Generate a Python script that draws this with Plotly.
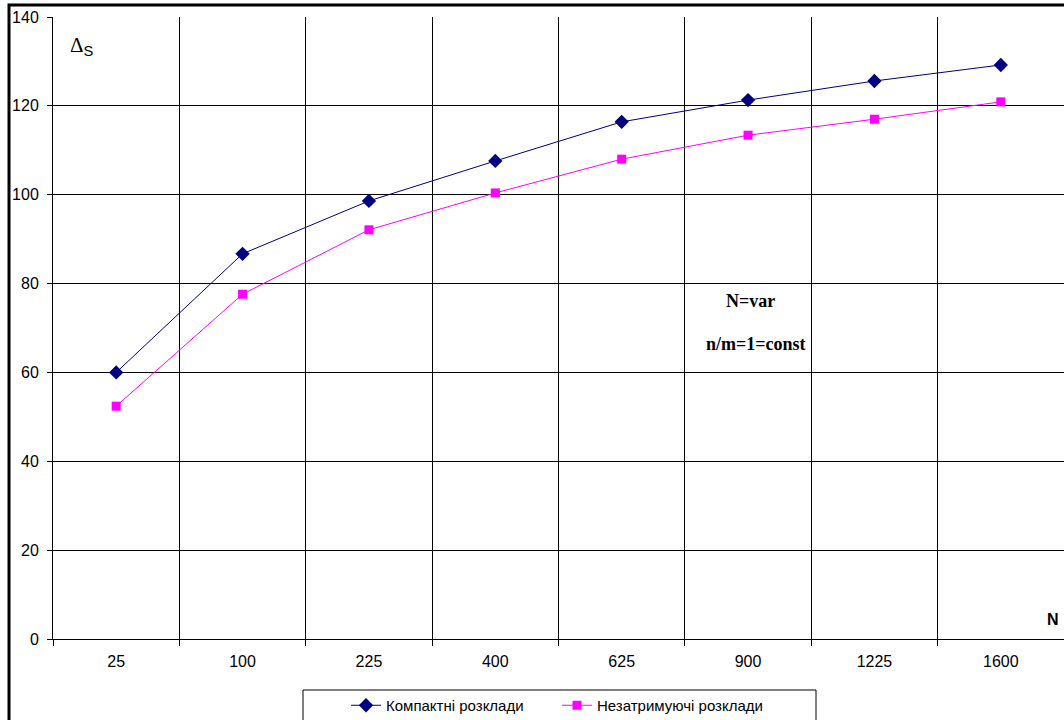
import plotly.graph_objects as go

categories = ["25", "100", "225", "400", "625", "900", "1225", "1600"]
compact = [60.0, 86.7, 98.6, 107.6, 116.4, 121.3, 125.6, 129.2]
nondelay = [52.4, 77.6, 92.1, 100.4, 108.0, 113.4, 117.0, 120.9]
y_ticks = [0, 20, 40, 60, 80, 100, 120, 140]

FONT = "Liberation Sans, Arial, sans-serif"
SERIF = "Liberation Serif, Times New Roman, serif"

W, H = 1064, 720
L, R, T, B = 53, 0, 17, 81
PW, PH = W - L - R, H - T - B


def px_x(px):
    return (px - L) / PW


def px_y(py):
    return (H - B - py) / PH


fig = go.Figure()
fig.add_trace(go.Scatter(
    x=categories, y=compact, mode="lines+markers", name="Компактні розклади",
    line=dict(color="#000080", width=1),
    marker=dict(symbol="diamond", size=11, color="#000080"),
))
fig.add_trace(go.Scatter(
    x=categories, y=nondelay, mode="lines+markers", name="Незатримуючі розклади",
    line=dict(color="#FF00FF", width=1),
    marker=dict(symbol="square", size=9, color="#FF00FF"),
))

fig.update_layout(
    width=W, height=H,
    margin=dict(l=L, r=R, t=T, b=B, autoexpand=False),
    paper_bgcolor="white", plot_bgcolor="white",
    font=dict(family=FONT, size=16, color="#000000"),
    showlegend=True,
    legend=dict(
        orientation="h",
        xref="container", x=346 / W, xanchor="left",
        yref="container", y=(H - 689) / H, yanchor="top",
        borderwidth=0, bgcolor="rgba(0,0,0,0)",
        font=dict(family=FONT, size=15, color="#000000"),
        entrywidth=166, entrywidthmode="pixels",
        itemwidth=30,
    ),
    xaxis=dict(
        type="category", range=[-0.5, 7.5], tickson="boundaries",
        ticks="outside", ticklen=6, tickcolor="#000000",
        showgrid=True, gridcolor="#000000", gridwidth=1,
        showline=True, linecolor="#000000", linewidth=1,
        tickfont=dict(family=FONT, size=16, color="#000000"),
        ticklabelstandoff=8, automargin=False,
        fixedrange=True,
    ),
    yaxis=dict(
        range=[0, 140], tickvals=y_ticks,
        ticks="outside", ticklen=5, tickcolor="#000000",
        showgrid=True, gridcolor="#000000", gridwidth=1,
        showline=True, linecolor="#000000", linewidth=1,
        zeroline=False, automargin=False,
        tickfont=dict(family=FONT, size=16, color="#000000"),
        ticklabelstandoff=5,
    ),
    shapes=[
        dict(type="rect", xref="paper", yref="paper",
             x0=px_x(9), x1=1.2, y0=-0.3, y1=px_y(5),
             line=dict(color="#000000", width=3), fillcolor="rgba(0,0,0,0)",
             layer="above"),
        dict(type="rect", xref="paper", yref="paper",
             x0=px_x(303), x1=px_x(816), y0=px_y(730), y1=px_y(690),
             line=dict(color="#000000", width=1), fillcolor="rgba(0,0,0,0)",
             layer="above"),
    ],
    annotations=[
        dict(x=-0.27, y=133.5, xref="x", yref="y",
             text="<span style='font-family:Liberation Serif'>Δ</span><sub>S</sub>",
             showarrow=False, font=dict(family=FONT, size=21, color="#000000")),
        dict(x=5.02, y=76.0, xref="x", yref="y", text="<b>N=var</b>",
             showarrow=False, font=dict(family=SERIF, size=18, color="#000000")),
        dict(x=5.06, y=66.3, xref="x", yref="y", text="<b>n/m=1=const</b>",
             showarrow=False, font=dict(family=SERIF, size=18, color="#000000")),
        dict(x=7.41, y=4.5, xref="x", yref="y", text="<b>N</b>",
             showarrow=False, font=dict(family=FONT, size=16, color="#000000")),
    ],
)

fig.write_html(
    "out.html",
    config={"displayModeBar": False},
    post_script="document.body.style.margin='0';document.body.style.overflow='hidden';",
)
